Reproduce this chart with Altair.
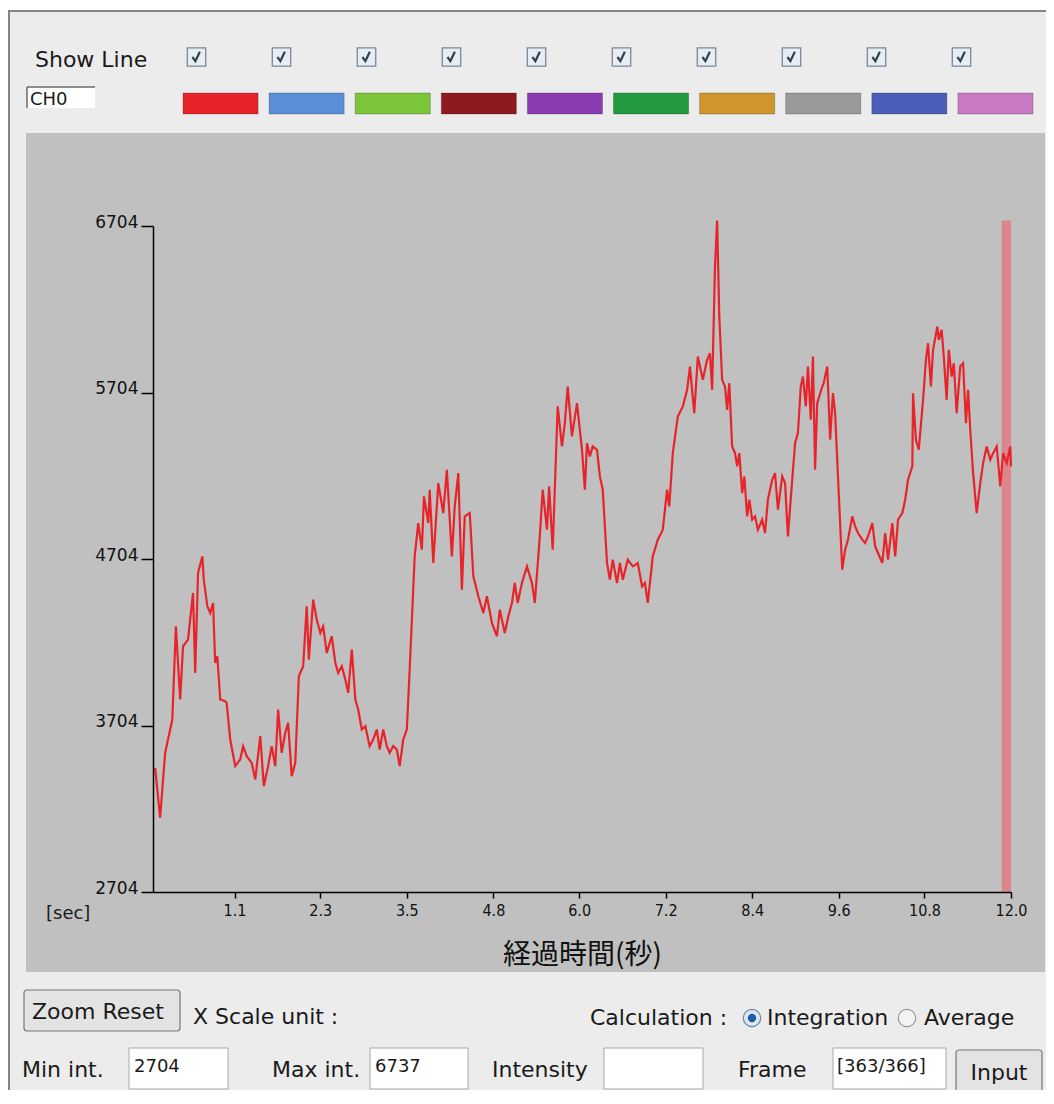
import json
import altair as alt
import pandas as pd

# ---------------- data ----------------
time_s = [
    0.03, 0.10, 0.17, 0.27, 0.32, 0.38, 0.42, 0.49, 0.56, 0.59, 0.63, 0.69, 0.71, 0.76, 0.80, 0.84,
    0.87, 0.90, 0.94, 1.01, 1.03, 1.08, 1.15, 1.22, 1.26, 1.31, 1.38, 1.43, 1.50, 1.55, 1.61, 1.66,
    1.71, 1.75, 1.80, 1.85, 1.89, 1.94, 1.99, 2.04, 2.10, 2.15, 2.18, 2.24, 2.29, 2.34, 2.38, 2.43,
    2.50, 2.55, 2.59, 2.64, 2.69, 2.73, 2.78, 2.83, 2.87, 2.92, 2.97, 3.03, 3.08, 3.13, 3.17, 3.22,
    3.27, 3.31, 3.36, 3.41, 3.45, 3.50, 3.55, 3.59,
    3.66, 3.71, 3.76, 3.79, 3.85, 3.87, 3.92, 3.99, 4.06, 4.11, 4.18, 4.22, 4.27, 4.32, 4.36, 4.43,
    4.48, 4.55, 4.62, 4.67, 4.74, 4.81, 4.85, 4.92, 4.97, 5.02, 5.06, 5.10, 5.16, 5.23, 5.30, 5.34,
    5.41, 5.45, 5.51, 5.54, 5.59, 5.66, 5.72, 5.76, 5.80, 5.86, 5.93, 6.00, 6.04, 6.07, 6.11, 6.15,
    6.21, 6.25, 6.29, 6.35, 6.39, 6.43, 6.49, 6.53, 6.57, 6.64, 6.71, 6.78, 6.84, 6.88, 6.92, 6.99,
    7.06, 7.13, 7.19, 7.22, 7.27, 7.34, 7.41,
    7.47, 7.51, 7.57, 7.62, 7.69, 7.75, 7.79, 7.82, 7.86, 7.89, 7.92, 7.96, 8.00, 8.03, 8.06, 8.10,
    8.14, 8.17, 8.20, 8.24, 8.27, 8.31, 8.34, 8.38, 8.42, 8.46, 8.52, 8.56, 8.60, 8.66, 8.70, 8.74,
    8.80, 8.84, 8.88, 8.94, 8.98, 9.02, 9.06, 9.09, 9.13, 9.16, 9.20, 9.23, 9.26, 9.29, 9.36, 9.38,
    9.43, 9.47, 9.51, 9.54, 9.58, 9.64, 9.68, 9.72, 9.78, 9.82, 9.86, 9.92, 9.96, 10.00, 10.06, 10.10,
    10.14, 10.20, 10.24, 10.28, 10.34, 10.38, 10.42, 10.48, 10.52, 10.56, 10.62, 10.63, 10.67, 10.71,
    10.77, 10.81, 10.84, 10.88, 10.91, 10.97, 10.99, 11.03, 11.06, 11.10, 11.13, 11.17, 11.20, 11.24,
    11.29, 11.33, 11.37, 11.40, 11.43, 11.47, 11.52, 11.57, 11.61, 11.66, 11.71, 11.75, 11.80, 11.85,
    11.89, 11.94, 11.99, 12.00,
]
intensity = [
    3450, 3150, 3540, 3740, 4300, 3860, 4180, 4220, 4500, 4020, 4620, 4720, 4580, 4420, 4380, 4440,
    4080, 4120, 3860, 3850, 3840, 3620, 3460, 3500, 3580, 3520, 3480, 3380, 3640, 3340, 3460, 3580,
    3460, 3800, 3540, 3660, 3720, 3400, 3480, 4000, 4060, 4420, 4100, 4460, 4340, 4260, 4300, 4140,
    4240, 4080, 4020, 4060, 3980, 3900, 4160, 3860, 3800, 3680, 3700, 3580, 3620, 3680, 3560, 3680,
    3580, 3540, 3580, 3560, 3460, 3620, 3680, 4040,
    4720, 4920, 4760, 5080, 4920, 5120, 4680, 5160, 4980, 5240, 4720, 5020, 5220, 4520, 4960, 4980,
    4600, 4480, 4380, 4480, 4320, 4240, 4400, 4260, 4360, 4440, 4560, 4440, 4560, 4660, 4560, 4440,
    4840, 5120, 4880, 5140, 4760, 5620, 5380, 5520, 5740, 5440, 5640, 5360, 5120, 5400, 5320, 5380,
    5360, 5200, 5120, 4680, 4580, 4700, 4560, 4680, 4580, 4700, 4660, 4680, 4540, 4560, 4440, 4720,
    4820, 4880, 5120, 5020, 5340, 5560, 5620,
    5720, 5860, 5580, 5920, 5780, 5900, 5940, 5720, 6460, 6737, 6160, 5780, 5740, 5600, 5760, 5380,
    5340, 5260, 5340, 5100, 5200, 4960, 5060, 4940, 4960, 4880, 4940, 4860, 5060, 5180, 5220, 5000,
    5200, 5160, 4840, 5180, 5400, 5460, 5740, 5800, 5620, 5860, 5540, 5920, 5240, 5640, 5740, 5760,
    5860, 5420, 5700, 5580, 5200, 4640, 4760, 4820, 4960, 4900, 4860, 4820, 4800, 4840, 4920, 4780,
    4740, 4680, 4860, 4700, 4920, 4720, 4940, 4980, 5060, 5180, 5260, 5700, 5420, 5360,
    5660, 5900, 6000, 5740, 5960, 6100, 6020, 6080, 5920, 5660, 5960, 5800, 5880, 5580,
    5860, 5880, 5520, 5720, 5480, 5220, 4980, 5160, 5280, 5380, 5300, 5340, 5380, 5140,
    5340, 5280, 5380, 5260,
]
assert len(time_s) == len(intensity)

y_ticks = [2704, 3704, 4704, 5704, 6704]
x_tick_values = [1.14, 2.34, 3.55, 4.76, 5.96, 7.17, 8.38, 9.59, 10.79, 12.0]
x_tick_labels = ["1.1", "2.3", "3.5", "4.8", "6.0", "7.2", "8.4", "9.6", "10.8", "12.0"]
x_range = [0.0, 12.0]
y_range = [2704, 6704]

channels = ["ch1", "ch2", "ch3", "ch4", "ch5", "ch6", "ch7", "ch8", "ch9", "ch10"]
channel_colors = ["#E8242B", "#5A8FD8", "#7CC63C", "#8E1A1E", "#8A3CB0",
                  "#239A3E", "#D0952C", "#9A9A9A", "#4A60B8", "#C87AC4"]

frame_time = [11.87, 12.0]          # current frame marker (363/366)
min_int, max_int = 2704, 6737

# ---------------- layout helpers (UI chrome only) ----------------
W, H = 858, 666
OX, OY = 153, 226                   # page position of plot origin
UI_FONT = "DejaVu Sans"
UI_SIZE = 22
NARROW = "DejaVu Sans Condensed, Liberation Sans Narrow, Roboto Condensed, DejaVu Sans"
CJK = "Noto Sans CJK JP"
one = pd.DataFrame({"k": [0]})


def px(x):
    return alt.value(x - OX)


def py(y):
    return alt.value(y - OY)


def box(x0, y0, x1, y1, **kw):
    return alt.Chart(one).mark_rect(**kw).encode(x=px(x0), x2=px(x1), y=py(y0), y2=py(y1))


def hline(x0, x1, y, **kw):
    return alt.Chart(one).mark_rule(**kw).encode(x=px(x0), x2=px(x1), y=py(y))


def vline(x, y0, y1, **kw):
    return alt.Chart(one).mark_rule(**kw).encode(x=px(x), y=py(y0), y2=py(y1))


def label(txt, x, y, size=UI_SIZE, font=UI_FONT, align="left", color="#1a1a1a"):
    return alt.Chart(one).mark_text(
        text=txt, align=align, baseline="alphabetic", font=font, fontSize=size, color=color
    ).encode(x=px(x), y=py(y))


def dot(x, y, size, **kw):
    return alt.Chart(one).mark_point(shape="circle", filled=True, opacity=1, size=size, **kw).encode(
        x=px(x), y=py(y))


# ---------------- panels ----------------
outer = box(9, 11, 1110, 1160, fill="#ECECEC", stroke="#858585", strokeWidth=2)
plot_bg = box(26, 133, 1045, 972, fill="#C0C0C0")

# ---------------- header ----------------
band_scale = alt.Scale(domain=channels, range=[30, 880], paddingInner=0.128, paddingOuter=0)
ch_df = pd.DataFrame({"ch": channels})

swatches = alt.Chart(ch_df).mark_rect(stroke="#000000", strokeOpacity=0.22, strokeWidth=1).encode(
    x=alt.X("ch:N", scale=band_scale, axis=None),
    y=py(93), y2=py(114),
    color=alt.Color("ch:N", scale=alt.Scale(domain=channels, range=channel_colors), legend=None),
)
checkboxes = alt.Chart(ch_df).mark_point(
    shape="square", filled=True, fill="#E6EDF5", stroke="#7D8793", strokeWidth=1.3,
    size=340, opacity=1, xOffset=-29
).encode(x=alt.X("ch:N", scale=band_scale, axis=None), y=py(57))
CHECK = "M-0.55,0.0L-0.15,0.55L0.45,-0.7"
checks = alt.Chart(ch_df).mark_point(
    shape=CHECK, filled=False, stroke="#34404E", strokeWidth=2.2, size=220, opacity=1, xOffset=-29
).encode(x=alt.X("ch:N", scale=band_scale, axis=None), y=py(57))

header = [
    label("Show Line", 35, 67),
    box(27, 87, 95, 108, fill="#FFFFFF"),
    hline(27, 95, 87, color="#6A6A6A", strokeWidth=1.5),
    vline(27, 87, 108, color="#6A6A6A", strokeWidth=1.5),
    label("CH0", 30, 105, size=18),
    swatches, checkboxes, checks,
]

# ---------------- main plot ----------------
df = pd.DataFrame({"t": time_s, "v": intensity})
band_df = pd.DataFrame({"t0": [frame_time[0]], "t1": [frame_time[1]], "v0": [min_int], "v1": [max_int]})

x_scale = alt.Scale(domain=x_range, nice=False, zero=False)
y_scale = alt.Scale(domain=y_range, nice=False, zero=False)

label_expr = f"{json.dumps(x_tick_labels)}[indexof({json.dumps(x_tick_values)}, datum.value)]"
x_axis = alt.Axis(
    values=x_tick_values, labelExpr=label_expr, title="経過時間(秒)",
    titleFont=CJK, titleFontSize=28, titleFontWeight="normal", titleColor="#111111", titlePadding=23,
    labelFont=NARROW, labelFontSize=16, labelColor="#111111", labelPadding=4,
    labelFlush=False, labelOverlap=False,
    tickSize=6, tickColor="#000000", tickWidth=1.5,
    domainColor="#000000", domainWidth=1.5, grid=False, zindex=1,
)
y_axis = alt.Axis(
    values=y_ticks, format="d", title="",
    labelFont=UI_FONT, labelFontSize=17, labelColor="#111111", labelPadding=3,
    labelBaseline="alphabetic", labelOffset=1,
    tickSize=12, tickColor="#000000", tickWidth=1.5,
    domainColor="#000000", domainWidth=1.5, grid=False, zindex=1,
)

frame_band = alt.Chart(band_df).mark_rect(color="#DC868B", opacity=1).encode(
    x=alt.X("t0:Q", scale=x_scale, axis=None), x2="t1:Q",
    y=alt.Y("v0:Q", scale=y_scale, axis=y_axis), y2="v1:Q",
)
line = alt.Chart(df).mark_line(color=channel_colors[0], strokeWidth=2.2).encode(
    x=alt.X("t:Q", scale=x_scale, axis=x_axis),
    y=alt.Y("v:Q", scale=y_scale, axis=y_axis),
)
sec_label = label("[sec]", 46, 919, size=18)

# ---------------- footer ----------------
footer = [
    box(24, 990, 180, 1031, fill="#E3E3E3", stroke="#777777", strokeWidth=1.2, cornerRadius=3),
    label("Zoom Reset", 32, 1019),
    label("X Scale unit :", 193, 1024),
    label("Calculation :", 590, 1025),
    dot(752, 1018, 300, fill="#DCE6F2", stroke="#6F86A3", strokeWidth=1.2),
    dot(752, 1018, 70, fill="#1C5DA8"),
    label("Integration", 767, 1025),
    dot(907, 1018, 300, fill="#F4F4F4", stroke="#9A9A9A", strokeWidth=1.2),
    label("Average", 924, 1025),

    label("Min int.", 22, 1077),
    box(129, 1048, 228, 1089, fill="#FFFFFF", stroke="#A8A8A8", strokeWidth=1),
    label(str(min_int), 134, 1072, size=18),
    label("Max int.", 272, 1077),
    box(370, 1048, 468, 1089, fill="#FFFFFF", stroke="#A8A8A8", strokeWidth=1),
    label(str(max_int), 375, 1072, size=18),
    label("Intensity", 492, 1077),
    box(604, 1048, 703, 1089, fill="#FFFFFF", stroke="#A8A8A8", strokeWidth=1),
    label("Frame", 738, 1077),
    box(833, 1048, 946, 1089, fill="#FFFFFF", stroke="#A8A8A8", strokeWidth=1),
    label("[363/366]", 837, 1072, size=18),
    box(956, 1050, 1042, 1093, fill="#E3E3E3", stroke="#777777", strokeWidth=1.2, cornerRadius=3),
    label("Input", 999, 1080, align="center"),
]

chart = alt.layer(
    outer, plot_bg, *header, frame_band, line, sec_label, *footer
).resolve_scale(
    x="independent"
).properties(
    width=W, height=H,
    padding={"left": OX - 8, "top": OY - 8, "right": 1038 - W - (OX - 8), "bottom": 1082 - H - (OY - 8)},
    autosize=alt.AutoSizeParams(type="none"),
    background="#FFFFFF",
).configure_view(strokeWidth=0)

chart.save("out.html", embed_options={"renderer": "svg", "actions": False})
